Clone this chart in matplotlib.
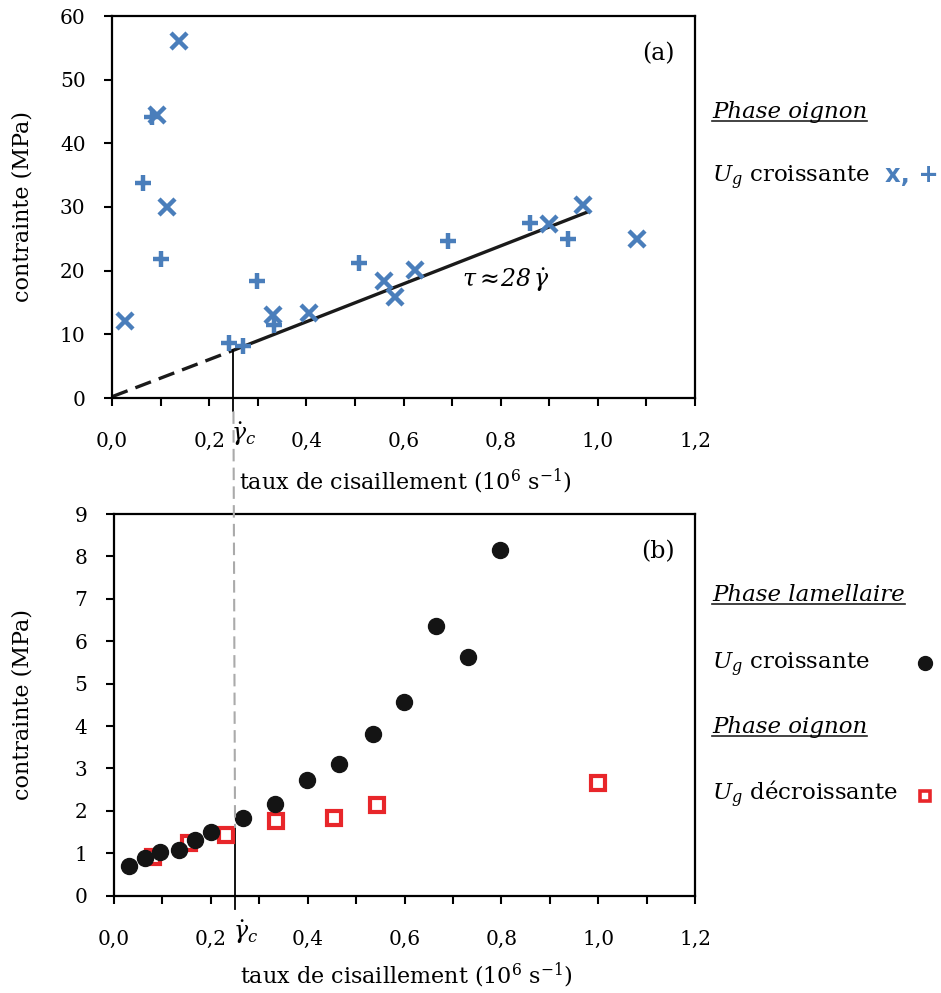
import matplotlib.pyplot as plt
from matplotlib.lines import Line2D
from matplotlib.ticker import MultipleLocator, FuncFormatter

plt.rcParams['font.family'] = 'DejaVu Serif'
plt.rcParams['mathtext.fontset'] = 'dejavuserif'

# --- (a) phase oignon, Ug croissante ---
x_cross = [0.027, 0.092, 0.138, 0.113, 0.332, 0.406, 0.559, 0.583, 0.624, 0.900, 0.970, 1.081]
y_cross = [12.1, 44.4, 56.0, 30.0, 13.0, 13.3, 18.3, 15.9, 20.1, 27.3, 30.3, 25.0]
x_plus = [0.063, 0.082, 0.100, 0.241, 0.269, 0.298, 0.334, 0.508, 0.692, 0.860, 0.939]
y_plus = [33.8, 44.2, 21.8, 8.6, 8.1, 18.4, 11.5, 21.2, 24.7, 27.5, 25.0]

# fit line tau ~ 28 gamma (dashed below gamma_c, solid above)
fit_x = [0.0, 0.25, 0.985]
fit_y = [0.2, 7.5, 29.4]

# --- (b) ---
x_lam = [0.031, 0.064, 0.096, 0.134, 0.167, 0.200, 0.266, 0.332, 0.398, 0.464, 0.534, 0.599, 0.665, 0.732, 0.797]
y_lam = [0.70, 0.88, 1.04, 1.08, 1.31, 1.50, 1.83, 2.16, 2.73, 3.10, 3.81, 4.57, 6.35, 5.64, 8.14]
x_oig = [0.081, 0.154, 0.231, 0.334, 0.455, 0.544, 1.000]
y_oig = [0.91, 1.24, 1.43, 1.76, 1.83, 2.14, 2.65]

gamma_c = 0.25
tau_c_a = 7.5
tau_c_b = 1.6

xticks = [0.0, 0.2, 0.4, 0.6, 0.8, 1.0, 1.2]

blue = '#4A7EBB'
red = '#E8262A'

W, H = 941, 993
fig = plt.figure(figsize=(W / 100, H / 100), dpi=100)
ax1 = fig.add_axes([112 / W, 1 - 398 / H, 583 / W, 382 / H])
ax2 = fig.add_axes([114 / W, 1 - 895.7 / H, 581 / W, 381.7 / H])

comma = FuncFormatter(lambda v, p: f"{v:.1f}".replace('.', ','))

for ax in (ax1, ax2):
    ax.set_xlim(0, 1.2)
    ax.set_xticks(xticks)
    ax.xaxis.set_minor_locator(MultipleLocator(0.1))
    ax.xaxis.set_major_formatter(comma)
    for s in ax.spines.values():
        s.set_linewidth(1.6)
    ax.tick_params(axis='x', which='both', direction='out', length=5.5, width=1.5)
    ax.tick_params(axis='x', which='major', pad=19, labelsize=14.5)
    ax.tick_params(axis='y', direction='out', length=6, width=1.5, pad=13, labelsize=14.5)
    ax.set_xlabel('taux de cisaillement (10$^6$ s$^{-1}$)', fontsize=16)
    ax.set_ylabel('contrainte (MPa)', fontsize=16)

ax1.set_ylim(0, 60)
ax1.set_yticks(range(0, 61, 10))
ax2.set_ylim(0, 9)
ax2.set_yticks(range(0, 10))

ax1.xaxis.set_label_coords(0.503, -0.18)
ax2.xaxis.set_label_coords(0.503, -0.17)
ax1.yaxis.set_label_coords(-0.134, 0.5)
ax2.yaxis.set_label_coords(-0.138, 0.5)

# (a) points
ax1.plot(x_cross, y_cross, linestyle='none', marker='x', ms=12, mew=3.2, color=blue, zorder=3)
ax1.plot(x_plus, y_plus, linestyle='none', marker='+', ms=12, mew=3.2, color=blue, zorder=3)
ax1.plot(fit_x[:2], fit_y[:2], color='#1a1a1a', lw=2.4, dashes=(5, 2.5))
ax1.plot(fit_x[1:], fit_y[1:], color='#1a1a1a', lw=2.4, solid_capstyle='butt')
ax1.text(0.72, 18.5, r'$\tau \approx\!$28$\,\dot{\gamma}$', fontsize=17, va='center', style='italic')
ax1.text(0.965, 0.9, '(a)', transform=ax1.transAxes, fontsize=17, ha='right', va='center')

# (b) points
ax2.plot(x_oig, y_oig, linestyle='none', marker='s', ms=10.5, mew=3, mfc='white', mec=red, zorder=3)
ax2.plot(x_lam, y_lam, linestyle='none', marker='o', ms=11.5, color='#141414', zorder=4)
ax2.text(0.965, 0.9, '(b)', transform=ax2.transAxes, fontsize=17, ha='right', va='center')

# gamma_c markers
ext1 = -0.035 * 60
ext2 = -0.035 * 9
ax1.plot([gamma_c, gamma_c], [ext1, tau_c_a], color='black', lw=1.3, clip_on=False)
ax2.plot([gamma_c, gamma_c], [ext2, tau_c_b], color='black', lw=1.3, clip_on=False)
for ax in (ax1, ax2):
    ax.text(gamma_c - 0.005, -0.095, r'$\dot{\gamma}_c$', transform=ax.get_xaxis_transform(),
            fontsize=17, ha='left', va='center')

inv = fig.transFigure.inverted()
p_top = inv.transform(ax1.transData.transform((gamma_c, ext1)))
p_bot = inv.transform(ax2.transData.transform((gamma_c, tau_c_b)))
fig.add_artist(Line2D([p_top[0], p_bot[0]], [p_top[1], p_bot[1]], color='#AAAAAA',
                      lw=1.5, dashes=(6, 3)))


def fx(px):
    return px / W


def fy(py):
    return 1 - py / H


def heading(x, y, s):
    t = fig.text(fx(x), fy(y), s, fontsize=16.5, style='italic', va='baseline')
    fig.canvas.draw()
    bb = t.get_window_extent()
    fig.add_artist(Line2D([fx(bb.x0), fx(bb.x1)], [fy(y + 3), fy(y + 3)], color='#222222', lw=1.2))
    return t


# legend texts
heading(712, 118, 'Phase oignon')
fig.text(fx(712), fy(182), r'$U_g$ croissante', fontsize=16.5, va='baseline')
fig.text(fx(885), fy(182), 'x, +', fontsize=17.5, color=blue, weight='bold',
         family='DejaVu Sans', va='baseline')

heading(712, 601, 'Phase lamellaire')
fig.text(fx(712), fy(669), r'$U_g$ croissante', fontsize=16.5, va='baseline')
fig.add_artist(Line2D([fx(925)], [fy(663)], marker='o', ms=10, color='#141414', linestyle='none'))
heading(712, 733, 'Phase oignon')
fig.text(fx(712), fy(800), r'$U_g$ décroissante', fontsize=16.5, va='baseline')
fig.add_artist(Line2D([fx(925)], [fy(796)], marker='s', ms=7.5, mew=2.6, mfc='white', mec=red,
                      linestyle='none'))

fig.savefig('out.png', dpi=100)
